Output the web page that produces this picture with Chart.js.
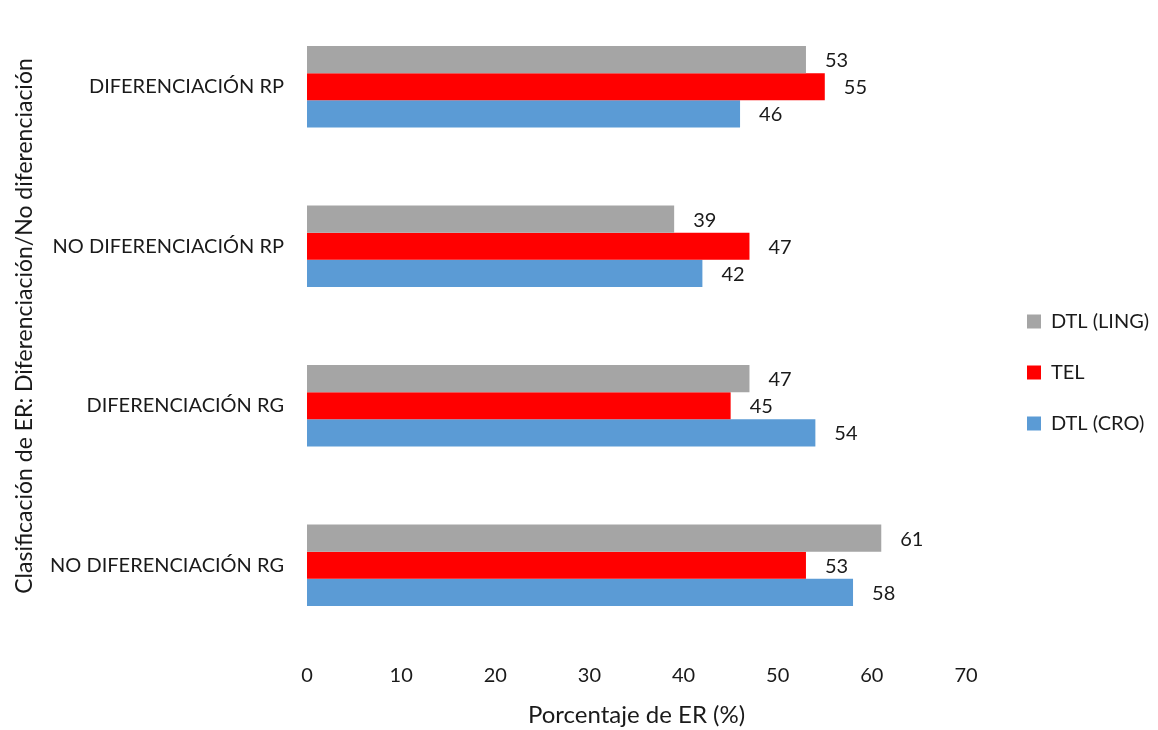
<!DOCTYPE html>
<html lang="es">
<head>
<meta charset="utf-8">
<title>Porcentaje de ER</title>
<script src="https://cdn.jsdelivr.net/npm/chart.js@4.4.1/dist/chart.umd.min.js"></script>
<style>
  html, body { margin: 0; padding: 0; background: #ffffff; }
  #contenedor { width: 1158px; height: 730px; }
</style>
</head>
<body>
<div id="contenedor"><canvas id="graficoER" width="1158" height="730"></canvas></div>
<script>
// Datos del gráfico
const categorias = ['DIFERENCIACIÓN RP', 'NO DIFERENCIACIÓN RP', 'DIFERENCIACIÓN RG', 'NO DIFERENCIACIÓN RG'];
const series = ['DTL (LING)', 'TEL', 'DTL (CRO)'];
const valoresLing = [53, 39, 47, 61];
const valoresTel = [55, 47, 45, 53];
const valoresCro = [46, 42, 54, 58];
const ejeXMin = 0;
const ejeXMax = 70;
const ejeXPaso = 10;

const fuente = 'Lato, "Open Sans", sans-serif';
const colorTexto = '#1a1a1a';

// Etiquetas de valor al final de cada barra
const etiquetasValor = {
    id: 'etiquetasValor',
    afterDatasetsDraw(chart) {
        const ctx = chart.ctx;
        ctx.save();
        ctx.font = '20px ' + fuente;
        ctx.fillStyle = colorTexto;
        ctx.textAlign = 'left';
        ctx.textBaseline = 'middle';
        chart.data.datasets.forEach((ds, i) => {
            chart.getDatasetMeta(i).data.forEach((barra, j) => {
                ctx.fillText(String(ds.data[j]), barra.x + 19, barra.y + 1);
            });
        });
        ctx.restore();
    }
};

// Leyenda: ancho fijo y desplazada un poco a la derecha, como en el original
const ajusteLeyenda = {
    id: 'ajusteLeyenda',
    beforeLayout(chart) {
        const leyenda = chart.legend;
        if (!leyenda || leyenda._anchoFijo) return;
        const fitOriginal = leyenda.fit.bind(leyenda);
        leyenda.fit = function () {
            fitOriginal();
            this.width = 192;
        };
        leyenda._anchoFijo = true;
    },
    afterLayout(chart) {
        const leyenda = chart.legend;
        if (!leyenda) return;
        leyenda.left += 30;
        leyenda.right += 30;
        leyenda.top += 4;
        leyenda.bottom += 4;
    }
};

document.addEventListener('DOMContentLoaded', () => {
    const ctx = document.getElementById('graficoER').getContext('2d');
    new Chart(ctx, {
        type: 'bar',
        data: {
            labels: categorias,
            datasets: [
                { label: series[0], data: valoresLing, backgroundColor: '#A5A5A5' },
                { label: series[1], data: valoresTel, backgroundColor: '#FF0000' },
                { label: series[2], data: valoresCro, backgroundColor: '#5B9BD5' }
            ]
        },
        options: {
            indexAxis: 'y',
            responsive: false,
            animation: false,
            devicePixelRatio: 1,
            layout: { padding: { top: 7, right: 0, bottom: 0, left: 0 } },
            datasets: {
                bar: { categoryPercentage: 0.51, barPercentage: 1.0, borderWidth: 0 }
            },
            scales: {
                x: {
                    min: ejeXMin,
                    max: ejeXMax,
                    ticks: {
                        stepSize: ejeXPaso,
                        color: colorTexto,
                        font: { family: fuente, size: 20 },
                        padding: 19
                    },
                    grid: { display: false, drawTicks: false },
                    border: { display: false },
                    title: {
                        display: true,
                        text: 'Porcentaje de ER (%)',
                        color: colorTexto,
                        font: { family: fuente, size: 24 },
                        padding: { top: 0, bottom: 0 }
                    },
                    afterFit(scale) { scale.height = 85; }
                },
                y: {
                    ticks: {
                        color: colorTexto,
                        font: { family: fuente, size: 20 },
                        padding: 23
                    },
                    grid: { display: false, drawTicks: false },
                    border: { display: false },
                    title: {
                        display: true,
                        text: 'Clasificación de ER: Diferenciación/No diferenciación',
                        color: colorTexto,
                        font: { family: fuente, size: 23 },
                        padding: { top: 11, bottom: 0 }
                    },
                    afterFit(scale) {
                        scale.width = 307;
                        scale.paddingTop = 0;
                        scale.paddingBottom = 0;
                    }
                }
            },
            plugins: {
                legend: {
                    position: 'right',
                    labels: {
                        boxWidth: 14,
                        boxHeight: 14,
                        padding: 31,
                        color: colorTexto,
                        font: { family: fuente, size: 20 }
                    }
                },
                tooltip: { enabled: false }
            }
        },
        plugins: [etiquetasValor, ajusteLeyenda]
    });
});
</script>
</body>
</html>
